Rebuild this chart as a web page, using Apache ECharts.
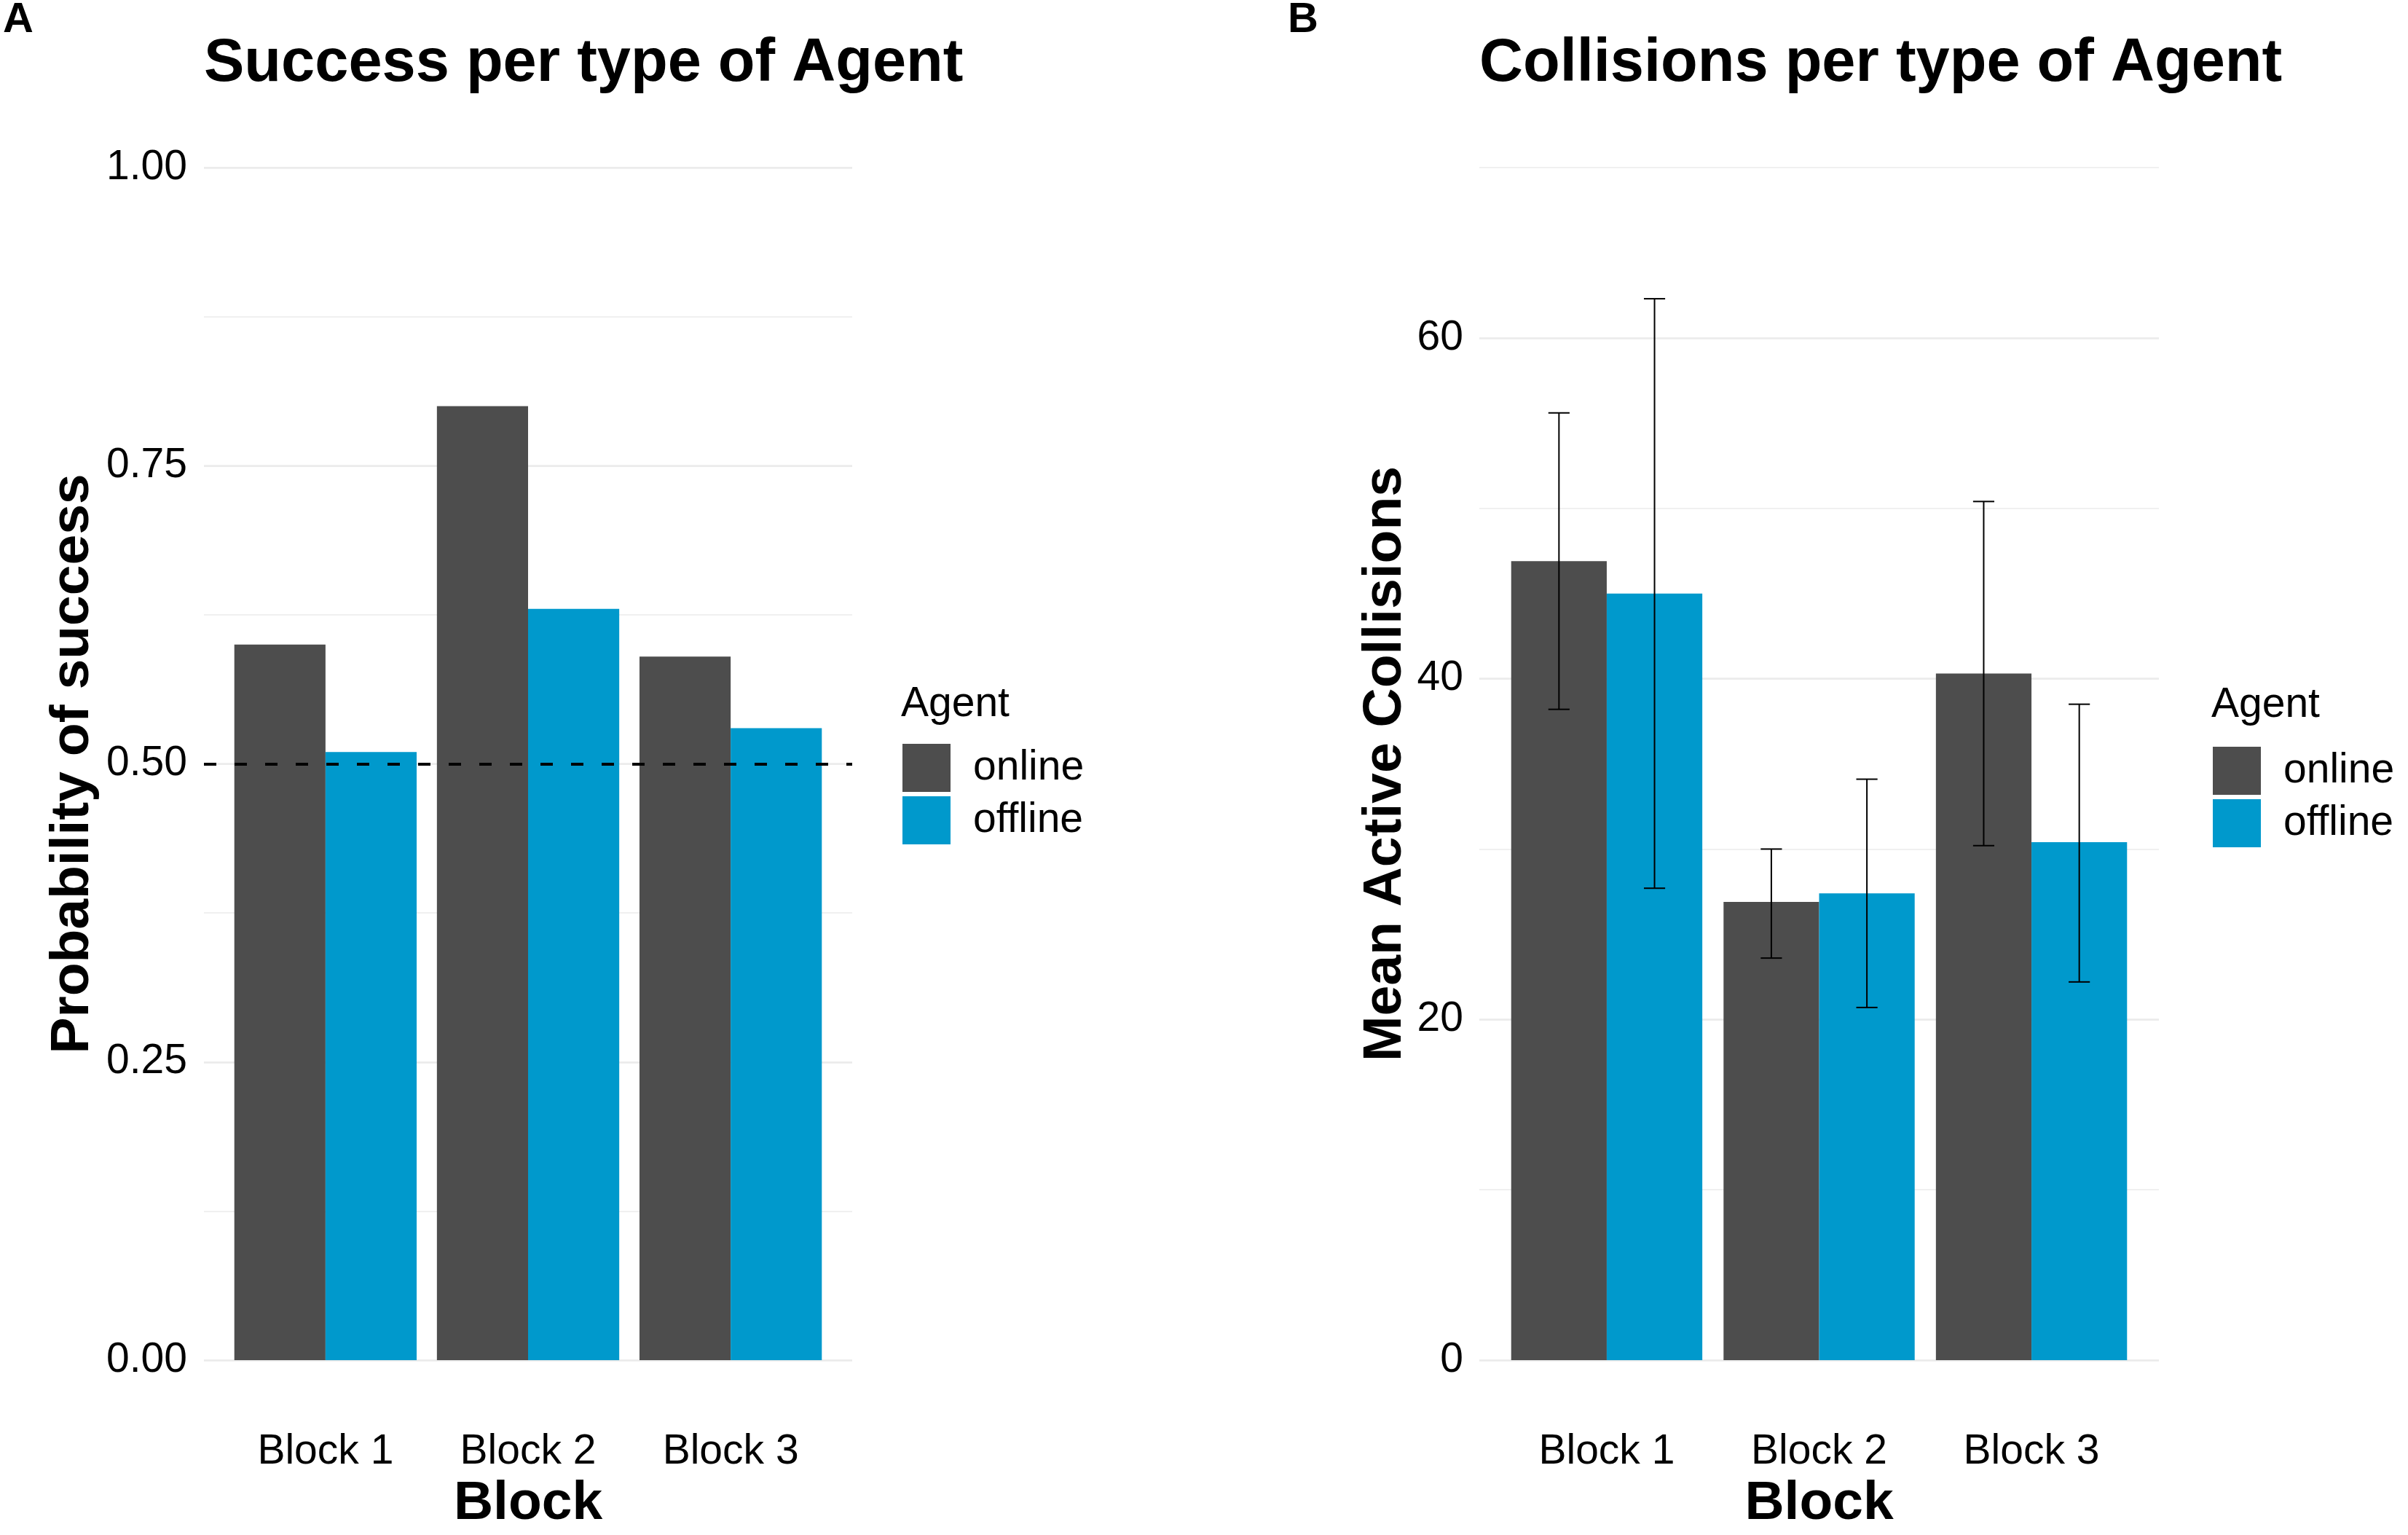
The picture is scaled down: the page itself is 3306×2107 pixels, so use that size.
<!doctype html>
<html>
<head>
<meta charset="utf-8" />
<script src="https://cdn.jsdelivr.net/npm/echarts@6/dist/echarts.min.js"></script>
<style>
  html, body { margin: 0; padding: 0; background: #fff; }
  #chart { width: 3306px; height: 2107px; }
</style>
</head>
<body>
<div id="chart"></div>
<script>
// categories on the x axis (placed at 1, 2, 3 like ggplot's discrete scale)
const blocks = ['Block 1', 'Block 2', 'Block 3'];
const blockPos = [1, 2, 3];
const agents = ['online', 'offline'];

// panel A: probability of success
const successOnline = [0.60, 0.80, 0.59];
const successOffline = [0.51, 0.63, 0.53];
const chanceLevel = 0.5;
const successTicks = [0, 0.25, 0.5, 0.75, 1];

// panel B: mean active collisions with error bars
const collisionsOnline = [46.9, 26.9, 40.3];
const collisionsOffline = [45.0, 27.4, 30.4];
const collisionsOnlineLow = [38.2, 23.6, 30.2];
const collisionsOnlineHigh = [55.6, 30.0, 50.4];
const collisionsOfflineLow = [27.7, 20.7, 22.2];
const collisionsOfflineHigh = [62.3, 34.1, 38.5];
const collisionTicks = [0, 20, 40, 60];

const COLORS = { online: '#4D4D4D', offline: '#0099CC' };
const FONT = 'Liberation Sans, Arial, sans-serif';
const GRID_COLOR = '#EBEBEB';
const DODGE = 0.225;      // half of one bar's share of the 0.9 dodge width
const WHISKER = 0.1;      // error bar whisker width in x units

const pairs = (ys) => blockPos.map((x, i) => [x, ys[i]]);
const ranges = (lo, hi) => blockPos.map((x, i) => [x, lo[i], hi[i]]);

function errorBar(offset) {
    return function (params, api) {
        const x = api.value(0) + offset;
        const lo = api.coord([x, api.value(1)]);
        const hi = api.coord([x, api.value(2)]);
        const half = api.size([WHISKER / 2, 0])[0];
        const style = { stroke: '#000', lineWidth: 2 };
        return {
            type: 'group',
            children: [
                { type: 'line', shape: { x1: lo[0], y1: lo[1], x2: hi[0], y2: hi[1] }, style },
                { type: 'line', shape: { x1: hi[0] - half, y1: hi[1], x2: hi[0] + half, y2: hi[1] }, style },
                { type: 'line', shape: { x1: lo[0] - half, y1: lo[1], x2: lo[0] + half, y2: lo[1] }, style },
            ],
        };
    };
}

const tickText = { color: '#000', fontSize: 57, fontFamily: FONT };
const axisTitle = { color: '#000', fontSize: 75, fontWeight: 'bold', fontFamily: FONT };

function xAxis(gridIndex) {
    return {
        gridIndex, type: 'value', min: 0.4, max: 3.6,
        name: 'Block', nameLocation: 'middle', nameGap: 160, nameTextStyle: axisTitle,
        axisLine: { show: false }, axisTick: { show: false }, splitLine: { show: false },
        axisLabel: { ...tickText, margin: 98, customValues: blockPos, formatter: (v) => blocks[Math.round(v) - 1] },
    };
}

function minorAxis(gridIndex, max, interval) {
    return {
        gridIndex, type: 'value', min: 0, max, interval, position: 'right',
        axisLine: { show: false }, axisTick: { show: false }, axisLabel: { show: false },
        splitLine: { show: true, lineStyle: { color: GRID_COLOR, width: 1.6 } },
    };
}

function legendTitle(left, top) {
    return { text: 'Agent', left, top, padding: 0, textStyle: { color: '#000', fontSize: 57, fontWeight: 'normal', fontFamily: FONT } };
}

function legend(left, top) {
    return {
        data: agents, orient: 'vertical', left, top, padding: 0, itemGap: 6,
        itemWidth: 66, itemHeight: 66, icon: 'rect', selectedMode: false,
        textStyle: { ...tickText, padding: [4, 0, 0, 26] },
    };
}

const headText = { color: '#000', fontSize: 83, fontWeight: 'bold', fontFamily: FONT };
const tagText = { color: '#000', fontSize: 58, fontWeight: 'bold', fontFamily: FONT };

const option = {
    animation: false,
    backgroundColor: '#fff',
    title: [
        { text: 'A', left: 4, top: -1, padding: 0, textStyle: tagText },
        { text: 'B', left: 1768, top: -1, padding: 0, textStyle: tagText },
        { text: 'Success per type of Agent', left: 280, top: 47, padding: 0, textStyle: headText },
        { text: 'Collisions per type of Agent', left: 2031, top: 47, padding: 0, textStyle: headText },
        legendTitle(1237, 939),
        legendTitle(3036, 940),
    ],
    legend: [legend(1239, 1021), legend(3038, 1025)],
    grid: [
        { left: 280, top: 230, width: 890, height: 1637 },
        { left: 2031, top: 230, width: 933, height: 1637 },
    ],
    xAxis: [xAxis(0), xAxis(1)],
    yAxis: [
        {
            gridIndex: 0, type: 'value', min: 0, max: 1, interval: 0.25,
            name: 'Probability of success', nameLocation: 'middle', nameRotate: 90, nameGap: 142, nameTextStyle: axisTitle,
            axisLine: { show: false }, axisTick: { show: false },
            axisLabel: { ...tickText, margin: 23, customValues: successTicks, formatter: (v) => v.toFixed(2) },
            splitLine: { show: true, lineStyle: { color: GRID_COLOR, width: 2.7 } },
        },
        minorAxis(0, 1, 0.125),
        {
            gridIndex: 1, type: 'value', min: 0, max: 70, interval: 20,
            name: 'Mean Active Collisions', nameLocation: 'middle', nameRotate: 90, nameGap: 91, nameTextStyle: axisTitle,
            axisLine: { show: false }, axisTick: { show: false },
            axisLabel: { ...tickText, margin: 22, customValues: collisionTicks },
            splitLine: { show: true, showMaxLine: false, lineStyle: { color: GRID_COLOR, width: 2.7 } },
        },
        minorAxis(1, 70, 10),
    ],
    series: [
        {
            name: 'online', type: 'bar', xAxisIndex: 0, yAxisIndex: 0, barWidth: '45%', barGap: '0%',
            itemStyle: { color: COLORS.online }, data: pairs(successOnline),
        },
        {
            name: 'offline', type: 'bar', xAxisIndex: 0, yAxisIndex: 0, barWidth: '45%', barGap: '0%',
            itemStyle: { color: COLORS.offline }, data: pairs(successOffline),
            markLine: {
                silent: true, symbol: 'none', label: { show: false },
                lineStyle: { color: '#000', type: [17, 25], width: 4 },
                data: [{ yAxis: chanceLevel }],
            },
        },
        {
            name: 'online', type: 'bar', xAxisIndex: 1, yAxisIndex: 2, barWidth: '45%', barGap: '0%',
            itemStyle: { color: COLORS.online }, data: pairs(collisionsOnline),
        },
        {
            name: 'offline', type: 'bar', xAxisIndex: 1, yAxisIndex: 2, barWidth: '45%', barGap: '0%',
            itemStyle: { color: COLORS.offline }, data: pairs(collisionsOffline),
        },
        {
            type: 'custom', xAxisIndex: 1, yAxisIndex: 2, z: 5, silent: true,
            encode: { x: 0, y: [1, 2] }, renderItem: errorBar(-DODGE),
            data: ranges(collisionsOnlineLow, collisionsOnlineHigh),
        },
        {
            type: 'custom', xAxisIndex: 1, yAxisIndex: 2, z: 5, silent: true,
            encode: { x: 0, y: [1, 2] }, renderItem: errorBar(DODGE),
            data: ranges(collisionsOfflineLow, collisionsOfflineHigh),
        },
    ],
};

const chart = echarts.init(document.getElementById('chart'));
chart.setOption(option);
</script>
</body>
</html>
